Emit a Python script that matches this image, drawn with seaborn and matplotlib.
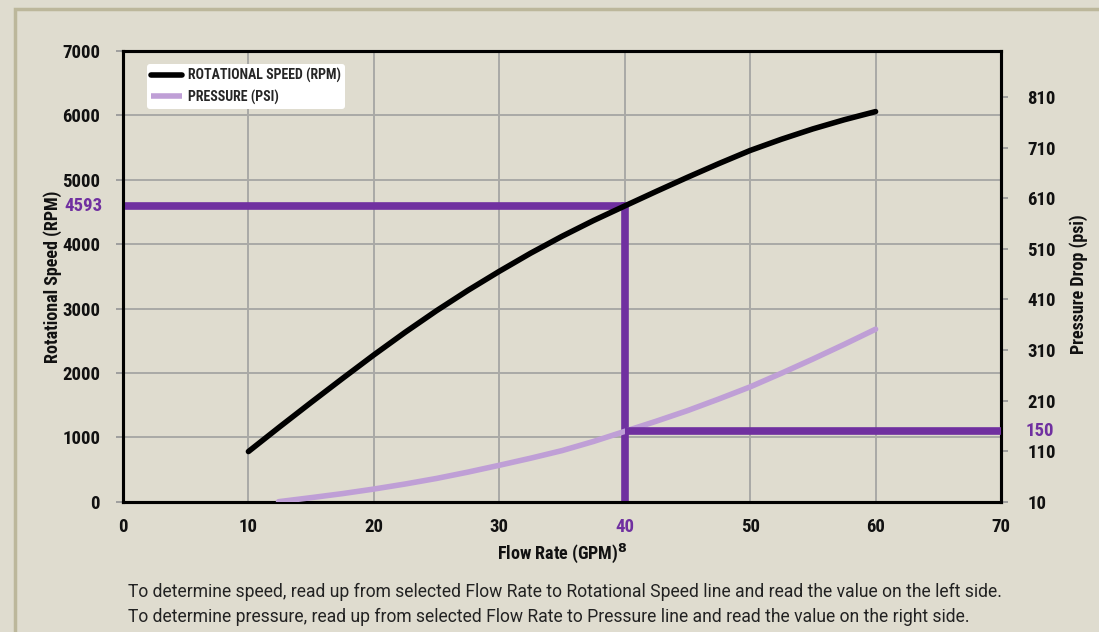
import pandas as pd
import matplotlib
matplotlib.use('Agg')
import matplotlib.pyplot as plt
import matplotlib.font_manager as fm
import seaborn as sns
from matplotlib.lines import Line2D
from matplotlib.patches import Rectangle

# data
flow_speed = [10, 12.5, 15, 17.5, 20, 22.5, 25, 27.5, 30, 32.5, 35,
              37.5, 40, 42.5, 45, 47.5, 50, 52.5, 55, 57.5, 60]
speed_rpm = [779, 1164, 1542, 1914, 2280, 2632, 2967, 3282, 3578, 3860, 4122,
             4366, 4593, 4818, 5038, 5251, 5455, 5630, 5790, 5932, 6059]
flow_press = [12.4, 15, 17.5, 20, 22.5, 25, 27.5, 30, 32.5, 35,
              37.5, 40, 42.5, 45, 47.5, 50, 52.5, 55, 57.5, 60]
pressure_psi = [10, 18, 26, 35, 45, 56, 68.5, 82, 96, 111,
                129, 149, 169, 190, 213, 237, 264, 292, 321, 351]

sel_flow = 40
sel_speed = 4593
sel_press = 150

x_ticks = [0, 10, 20, 30, 40, 50, 60, 70]
left_ticks = [0, 1000, 2000, 3000, 4000, 5000, 6000, 7000]
right_ticks = [10, 110, 210, 310, 410, 510, 610, 710, 810]
legend_labels = ['ROTATIONAL SPEED (RPM)', 'PRESSURE (PSI)']
notes = ['To determine speed, read up from selected Flow Rate to Rotational Speed line and read the value on the left side.',
         'To determine pressure, read up from selected Flow Rate to Pressure line and read the value on the right side.']

BG = '#dfdccf'
PURPLE = '#7030a0'
LILAC = '#bf9fd6'
GRID = '#a9a9a6'

sns.set_theme(style='white')
plt.rcParams['font.family'] = ['DejaVu Sans']


# pick a bold narrow font if one is installed
def narrow_bold():
    prefs = ['Liberation Sans Narrow', 'Roboto Condensed', 'Open Sans Condensed',
             'Noto Sans', 'DejaVu Sans', 'Open Sans', 'Roboto', 'Lato', 'Inter']
    best = None
    for f in fm.fontManager.ttflist:
        narrow = ('Narrow' in f.name or 'Condensed' in f.name
                  or 'condensed' in str(f.stretch))
        if not narrow:
            continue
        w = f.weight if isinstance(f.weight, int) else (700 if 'bold' in str(f.weight) else 400)
        if w < 600 or f.style != 'normal':
            continue
        rank = next((i for i, p in enumerate(prefs) if f.name.startswith(p)), 99)
        if best is None or rank < best[0]:
            best = (rank, f.fname)
    return best[1] if best else None


FNAME = narrow_bold()


def fp(size):
    if FNAME:
        return fm.FontProperties(fname=FNAME, size=size)
    return fm.FontProperties(family='DejaVu Sans', weight='bold', size=size)


df_s = pd.DataFrame({'flow': flow_speed, 'rpm': speed_rpm})
df_p = pd.DataFrame({'flow': flow_press, 'psi': pressure_psi})

fig = plt.figure(figsize=(10.99, 6.32), dpi=100, facecolor=BG)
fig.patches.append(Rectangle((15 / 1099, -0.1), 1.2, (632 - 9) / 632 + 0.1,
                             transform=fig.transFigure, fill=False,
                             edgecolor='#bcb79b', linewidth=2.5, zorder=0))
ax = fig.add_axes([123 / 1099, 1 - 501.7 / 632, (1001 - 123) / 1099, (501.7 - 51) / 632])
ax.set_facecolor('none')
ax2 = ax.twinx()

# purple read-off lines
ax.plot([0, sel_flow], [sel_speed, sel_speed], color=PURPLE, lw=5.5,
        solid_capstyle='butt', zorder=4)
ax.plot([sel_flow, sel_flow], [0, sel_speed], color=PURPLE, lw=5.5,
        solid_capstyle='projecting', zorder=4)

sns.lineplot(data=df_s, x='flow', y='rpm', ax=ax, color='black', lw=4,
             zorder=5, estimator=None, solid_capstyle='round')
sns.lineplot(data=df_p, x='flow', y='psi', ax=ax2, color=LILAC, lw=4,
             zorder=3, estimator=None)
ax2.plot([sel_flow, 70], [sel_press, sel_press], color=PURPLE, lw=5.5,
         solid_capstyle='butt', zorder=4)

ax.set_xlim(0, 70)
ax.set_ylim(0, 7000)
ax2.set_ylim(10, 901)
ax.set_xticks(x_ticks)
ax.set_yticks(left_ticks)
ax2.set_yticks(right_ticks)
ax.grid(True, color=GRID, lw=1.4)
ax.set_axisbelow(True)
ax2.grid(False)

for a in (ax, ax2):
    for s in a.spines.values():
        s.set_color('black')
        s.set_linewidth(2.2)

ax.tick_params(axis='x', length=7, width=1.5, color='black', pad=5)
ax.tick_params(axis='y', length=5, width=1.3, color='#9a9a9a', pad=11.5)
ax2.tick_params(axis='y', length=5, width=1.3, color='#9a9a9a', pad=14)
for lab in ax.get_xticklabels() + ax.get_yticklabels() + ax2.get_yticklabels():
    lab.set_fontproperties(fp(13.5))
    lab.set_color('#111111')
for lab in ax.get_xticklabels():
    if lab.get_text() == str(sel_flow):
        lab.set_color(PURPLE)

# highlighted values on the side axes
ax.text(-0.0235, sel_speed, str(sel_speed), transform=ax.get_yaxis_transform(),
        ha='right', va='center', color=PURPLE, fontproperties=fp(13.5))
ax2.text(1.0275, sel_press, str(sel_press), transform=ax2.get_yaxis_transform(),
         ha='left', va='center', color=PURPLE, fontproperties=fp(13.5))

ax.set_xlabel('Flow Rate (GPM)$^{\\mathbf{8}}$', fontproperties=fp(13), color='#111111')
ax.xaxis.set_label_coords(0.5, -0.088)
ax.set_ylabel('Rotational Speed (RPM)', fontproperties=fp(13), color='#111111')
ax.yaxis.set_label_coords(-0.07, 0.5)
ax2.set_ylabel('Pressure Drop (psi)', fontproperties=fp(13), color='#111111')
ax2.yaxis.set_label_coords(1.078, 0.483)

handles = [Line2D([], [], color='black', lw=4, solid_capstyle='round'),
           Line2D([], [], color=LILAC, lw=4, solid_capstyle='butt')]
leg = ax.legend(handles, legend_labels,
                loc='upper left', bbox_to_anchor=(0.0273, 0.971), frameon=True,
                fancybox=True, facecolor='white', edgecolor='none', framealpha=1,
                prop=fp(10), handlelength=2.2, handletextpad=0.45,
                borderpad=0.3, labelspacing=0.45, borderaxespad=0)
leg.set_zorder(10)

fig.text(128 / 1099, 1 - 592 / 632, notes[0], family='Roboto', fontsize=12.65,
         color='#222222', va='center')
fig.text(128 / 1099, 1 - 617 / 632, notes[1], family='Roboto', fontsize=12.65,
         color='#222222', va='center')

fig.savefig('out.png', dpi=100, facecolor=BG)
